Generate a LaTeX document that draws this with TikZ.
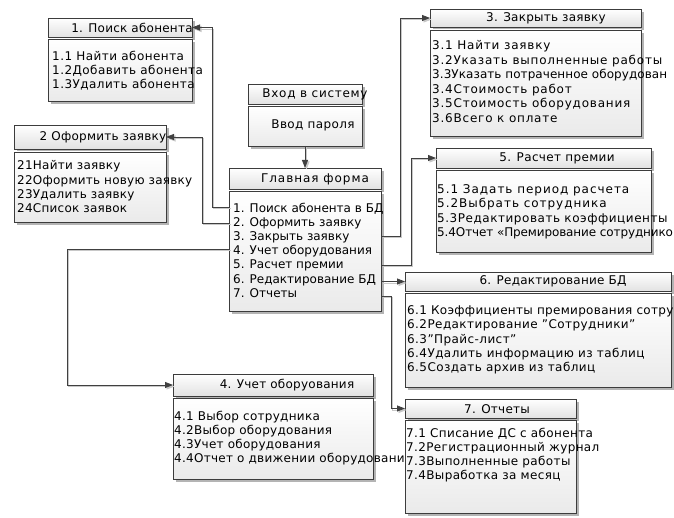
\documentclass[tikz,border=0pt]{standalone}
\usepackage{fontspec}
\setmainfont{DejaVu Sans}
\usetikzlibrary{arrows.meta,shadows}
\definecolor{bordc}{HTML}{3C3C3C}
\definecolor{connc}{HTML}{404040}
\definecolor{shadc}{HTML}{B4B4B4}
\definecolor{lshadc}{HTML}{C8C8C8}
\definecolor{hdrb}{HTML}{E2E2E2}
\definecolor{bdyb}{HTML}{EAEAEA}
\newcommand\fs[1]{\fontsize{12}{14.2}\selectfont\addfontfeature{LetterSpace=#1}}
\newcommand\fsw[1]{\fontsize{12}{14.5}\selectfont\addfontfeature{LetterSpace=#1}}
\newcommand\ls[1]{\addfontfeature{LetterSpace=#1}}
\tikzset{
  boxbase/.style={rectangle, draw=bordc, line width=0.8pt, inner sep=0pt, outer sep=0pt,
    drop shadow={shadow xshift=3pt, shadow yshift=-3pt, fill=shadc, opacity=1}},
  hdr/.style={boxbase, top color=white, bottom color=hdrb},
  bdy/.style={boxbase, top color=white, bottom color=bdyb},
  ttl/.style={inner sep=0pt, font=\fs{2}},
  txt/.style={inner sep=0pt, anchor=north west, align=left, font=\fs{#1}},
  txt/.default=0,
  conn/.style={draw=connc, line width=0.8pt, -{Triangle[length=8pt,width=6pt]},
    preaction={draw=lshadc, line width=0.8pt, transform canvas={shift={(1.5pt,-1.5pt)}}}},
}
% name, left, top, right, header bottom, body top, bottom
\newcommand\umlbox[7]{%
  \node[hdr, minimum width={#4pt-#2pt}, minimum height={#5pt-#3pt}, anchor=north west] (#1h) at (#2,#3) {};
  \node[bdy, minimum width={#4pt-#2pt}, minimum height={#7pt-#6pt}, anchor=north west] (#1b) at (#2,#6) {};
}
\begin{document}
\begin{tikzpicture}[x=1pt,y=-1pt]
\useasboundingbox[fill=white] (0,0) rectangle (674,518);

% 1
\umlbox{p}{48}{18}{192}{37}{39}{101}
\node[ttl] (pt) at (132,28) {1. Поиск абонента};
\node[txt=3.7] (px) at (52,50.5) {1.1 Найти абонента\\1.2Добавить абонента\\1.3Удалить абонента};

% 2
\umlbox{o}{14}{125}{166}{149}{152}{222}
\node[ttl] (ot) at (103,137) {2 Оформить заявку};
\node[txt=2] (ox) at (17,160.5) {21Найти заявку\\22Оформить новую заявку\\23Удалить заявку\\24Список заявок};

% login
\umlbox{l}{248}{84}{362}{104}{106}{146}
\node[ttl, font=\fs{6}] (lt) at (315,94) {Вход в систему};
\node[ttl, font=\fs{3}] (lx) at (313,125) {Ввод пароля};

% main
\umlbox{m}{229}{168}{381}{189}{191}{311}
\node[ttl, font=\fs{8}] (mt) at (315,179) {Главная форма};
\node[txt=0] (mx) at (233,202.5) {1. Поиск абонента в БД\\2. Оформить заявку\\3. Закрыть заявку\\4. Учет оборудования\\5. Расчет премии\\6. Редактирование БД\\7. Отчеты};

% 3
\umlbox{z}{430}{9}{641}{27}{30}{136}
\node[ttl] (zt) at (546,18) {3. Закрыть заявку};
\node[txt, font=\fsw{6.5}] (zx) at (432,40.5) {3.1 Найти заявку\\3.2Указать выполненные работы\\{\ls{0.5}3.3Указать потраченное оборудован}\\3.4Стоимость работ\\3.5Стоимость оборудования\\3.6Всего к оплате};

% 5
\umlbox{r}{436}{148}{651}{168}{170}{252}
\node[ttl, font=\fs{3}] (rt) at (557,158) {5. Расчет премии};
\node[txt=8] (rx) at (437,184.5) {5.1 Задать период расчета\\5.2Выбрать сотрудника\\{\ls{4.5}5.3Редактировать коэффициенты}\\{\ls{-1}5.4Отчет «Премирование сотруднико}};

% 6
\umlbox{e}{405}{272}{671}{291}{293}{387}
\node[ttl] (et) at (553,281) {6. Редактирование БД};
\node[txt=3.5] (ex) at (407,305.5) {{\ls{2.6}6.1 Коэффициенты премирования сотру}\\6.2Редактирование "Сотрудники"\\6.3"Прайс-лист"\\6.4Удалить информацию из таблиц\\6.5Создать архив из таблиц};

% 4
\umlbox{u}{173}{374}{373}{396}{398}{479}
\node[ttl] (ut) at (287,385) {4. Учет оборуования};
\node[txt=2.3] (ux) at (174,410.5) {4.1 Выбор сотрудника\\4.2Выбор оборудования\\4.3Учет оборудования\\4.4Отчет о движении оборудовани};

% 7
\umlbox{t}{405}{399}{576}{418}{420}{513}
\node[ttl] (tt) at (497,409) {7. Отчеты};
\node[txt=3] (tx) at (406,427.5) {7.1 Списание ДС с абонента\\7.2Регистрационный журнал\\7.3Выполненные работы\\7.4Выработка за месяц};

% connector ends on the main form
\coordinate (m1) at (229,207);
\coordinate (m2) at (229,223);
\coordinate (m3) at (381,236);
\coordinate (m4) at (229,249);
\coordinate (m5) at (381,265);
\coordinate (m6) at (381,281.5);
\coordinate (m7) at (381,296);

\draw[conn] (lb.south) -- (mh.north);
\draw[conn] (m1) -- (212,207) |- (ph.east);
\draw[conn] (m2) -- (202,223) |- (oh.east);
\draw[conn] (m3) -- (400,236) |- (zh.west);
\draw[conn] (m4) -- (67,249) |- (uh.west);
\draw[conn] (m5) -- (411,265) |- (rh.west);
\draw[conn] (m6) -- (eh.west);
\draw[conn] (m7) -- (391,296) |- (th.west);
\end{tikzpicture}
\end{document}
